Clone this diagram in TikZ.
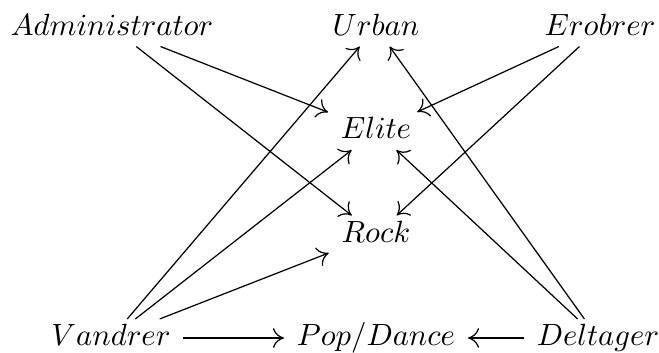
\documentclass[tikz,border=0pt]{standalone}
\usetikzlibrary{arrows.meta}
\begin{document}
\begin{tikzpicture}[x=0.3257pt,y=-0.3257pt,
  obj/.style={inner xsep=4pt,inner ysep=3pt,text height=5.6pt,text depth=0.4pt},
  link/.style={line width=0.4pt,-{To[length=3.6pt,width=6.4pt]}}]
\useasboundingbox (0,0) rectangle (659,353);
% top row
\node[obj] (adm) at (112,27.5) {$Administrator$};
\node[obj] (urb) at (376,27.5) {$Urban$};
\node[obj] (ero) at (600,27.5) {$Erobrer$};
% middle column
\node[obj] (eli) at (376,131) {$Elite$};
\node[obj] (roc) at (376,234.5) {$Rock$};
% bottom row
\node[obj] (van) at (111,338) {$Vandrer$};
\node[obj] (pop) at (376,338) {$Pop/Dance$};
\node[obj] (del) at (598,338) {$Deltager$};
% arrows
\draw[link] (adm) -- (eli);
\draw[link] (adm) -- (roc);
\draw[link] (ero) -- (eli);
\draw[link] (ero) -- (roc);
\draw[link] (van) -- (urb);
\draw[link] (van) -- (eli);
\draw[link] (van) -- (roc);
\draw[link] (van) -- (pop);
\draw[link] (del) -- (urb);
\draw[link] (del) -- (eli);
\draw[link] (del) -- (pop);
\end{tikzpicture}
\end{document}
